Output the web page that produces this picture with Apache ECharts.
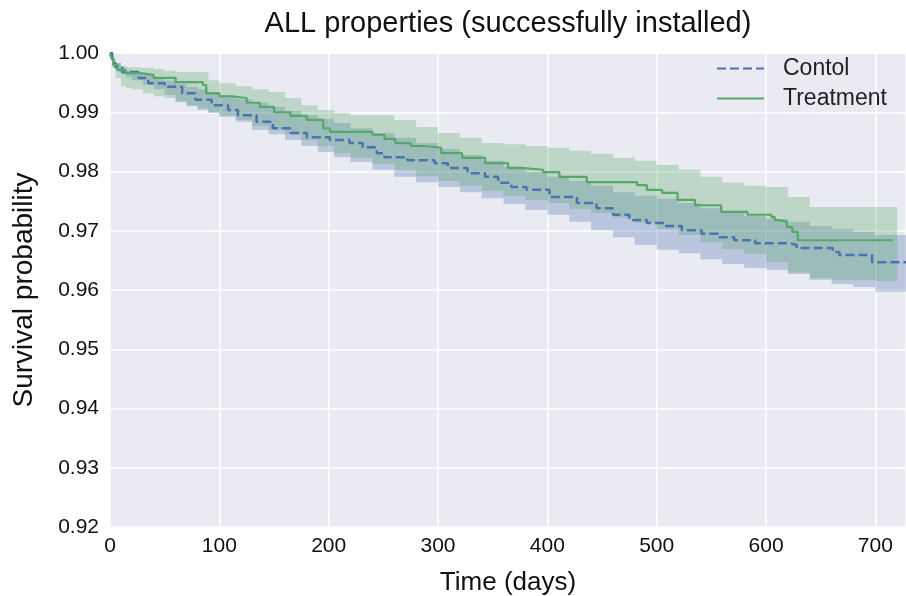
<!DOCTYPE html>
<html>
<head>
	<meta charset="utf-8">
	<title>ALL properties (successfully installed)</title>
	<script type="text/javascript" src="https://cdn.jsdelivr.net/npm/echarts@6/dist/echarts.min.js"></script>
	<style>
		html, body { margin: 0; padding: 0; background: #fff; }
	</style>
</head>
<body>
	<div id="main" style="width: 906px;height: 596px"></div>
	<script type="text/javascript">
	// Kaplan-Meier curves (days, survival probability)
	const ctrlDays = [0, 2, 5, 11, 26, 35, 50, 66, 78, 93, 108, 117, 134, 149, 165, 180, 201, 219, 231, 244,
		251, 272, 297, 309, 327, 343, 355, 367, 381, 402, 427, 445, 460, 475, 491, 507, 523, 541, 556, 571,
		590, 622, 628, 661, 667, 697, 728];
	const ctrlSurv = [1.0000, 0.9983, 0.9976, 0.9968, 0.9958, 0.9949, 0.9943, 0.9932, 0.9921, 0.9912, 0.9904, 0.9895, 0.9884, 0.9873, 0.9865, 0.9858, 0.9853, 0.9848, 0.9841, 0.9831,
		0.9824, 0.9819, 0.9814, 0.9806, 0.9797, 0.9791, 0.9781, 0.9774, 0.9769, 0.9757, 0.9747, 0.9738, 0.9727, 0.9718, 0.9713, 0.9708, 0.9701, 0.9695, 0.9689, 0.9684,
		0.9679, 0.9676, 0.9671, 0.9664, 0.9659, 0.9647, 0.9647];

	const treatDays = [0, 1, 3, 7, 14, 27, 40, 60, 85, 88, 100, 110, 125, 137, 150, 165, 180, 195, 201, 240,
		251, 261, 275, 288, 303, 322, 343, 364, 375, 396, 411, 436, 482, 491, 505, 519, 535, 559, 583, 605,
		608, 612, 619, 624, 629, 716];
	const treatSurv = [1.0000, 0.9992, 0.9980, 0.9971, 0.9966, 0.9963, 0.9958, 0.9951, 0.9946, 0.9932, 0.9927, 0.9924, 0.9916, 0.9909, 0.9900, 0.9894, 0.9887, 0.9873, 0.9867, 0.9862,
		0.9855, 0.9848, 0.9843, 0.9840, 0.9831, 0.9823, 0.9814, 0.9806, 0.9803, 0.9799, 0.9791, 0.9782, 0.9777, 0.9769, 0.9764, 0.9752, 0.9743, 0.9732, 0.9727, 0.9723,
		0.9718, 0.9715, 0.9706, 0.9698, 0.9684, 0.9684];

	// confidence bands
	const ctrlBandDays = [0, 2, 5, 10, 15, 20, 30, 40, 50, 60, 70, 80, 90, 100, 115, 130, 145, 160, 175, 190,
		205, 220, 240, 260, 280, 300, 320, 340, 360, 380, 400, 420, 440, 460, 480, 500, 520, 540, 560, 580,
		600, 620, 640, 660, 680, 700, 720, 728];
	const ctrlUpper = [1.0000, 0.9990, 0.9983, 0.9976, 0.9971, 0.9968, 0.9963, 0.9958, 0.9953, 0.9948, 0.9943, 0.9939, 0.9934, 0.9929, 0.9922, 0.9916, 0.9909, 0.9902, 0.9895, 0.9889,
		0.9882, 0.9873, 0.9865, 0.9857, 0.9848, 0.9838, 0.9828, 0.9818, 0.9808, 0.9799, 0.9791, 0.9784, 0.9776, 0.9765, 0.9759, 0.9754, 0.9747, 0.9738, 0.9730, 0.9725,
		0.9720, 0.9715, 0.9708, 0.9703, 0.9698, 0.9693, 0.9693, 0.9693];
	const ctrlLower = [1.0000, 0.9980, 0.9971, 0.9965, 0.9959, 0.9954, 0.9946, 0.9939, 0.9929, 0.9917, 0.9911, 0.9904, 0.9899, 0.9892, 0.9884, 0.9870, 0.9863, 0.9853, 0.9843, 0.9833,
		0.9824, 0.9816, 0.9803, 0.9791, 0.9782, 0.9774, 0.9765, 0.9755, 0.9745, 0.9735, 0.9727, 0.9715, 0.9701, 0.9689, 0.9676, 0.9668, 0.9662, 0.9652, 0.9644, 0.9637,
		0.9634, 0.9627, 0.9620, 0.9610, 0.9605, 0.9597, 0.9597, 0.9597];

	const treatBandDays = [0, 2, 5, 10, 15, 20, 30, 40, 50, 60, 70, 80, 90, 100, 115, 130, 145, 160, 175, 190,
		205, 220, 240, 260, 280, 300, 320, 340, 360, 380, 400, 420, 440, 460, 480, 500, 520, 540, 560, 580,
		600, 620, 640, 660, 680, 700, 720];
	const treatUpper = [1.0000, 0.9988, 0.9983, 0.9978, 0.9976, 0.9976, 0.9975, 0.9973, 0.9970, 0.9968, 0.9968, 0.9968, 0.9954, 0.9949, 0.9944, 0.9939, 0.9934, 0.9924, 0.9912, 0.9904,
		0.9899, 0.9895, 0.9895, 0.9887, 0.9875, 0.9865, 0.9857, 0.9848, 0.9846, 0.9843, 0.9840, 0.9835, 0.9830, 0.9823, 0.9818, 0.9811, 0.9803, 0.9791, 0.9781, 0.9776,
		0.9774, 0.9757, 0.9740, 0.9740, 0.9740, 0.9740, 0.9740];
	const treatLower = [1.0000, 0.9975, 0.9958, 0.9944, 0.9941, 0.9939, 0.9932, 0.9927, 0.9924, 0.9919, 0.9911, 0.9907, 0.9900, 0.9895, 0.9887, 0.9877, 0.9870, 0.9863, 0.9853, 0.9843,
		0.9831, 0.9823, 0.9813, 0.9803, 0.9792, 0.9784, 0.9776, 0.9767, 0.9759, 0.9752, 0.9747, 0.9737, 0.9730, 0.9722, 0.9713, 0.9703, 0.9693, 0.9681, 0.9669, 0.9661,
		0.9647, 0.9630, 0.9617, 0.9617, 0.9617, 0.9615, 0.9613];

	const xTicks = [0, 100, 200, 300, 400, 500, 600, 700];

	const FONT = 'Arial, "Liberation Sans", sans-serif';
	const BLUE = '#4C72B0';
	const GREEN = '#55A868';

	function zip(xs, ys) {
		return xs.map(function (x, i) { return [x, ys[i]]; });
	}

	// step-shaped polygon between lower and upper, drawn through the axis scales
	function band(name, days, lower, upper, color) {
		return {
			name: name,
			type: 'custom',
			silent: true,
			clip: true,
			z: 1,
			data: [[days[0], upper[0]]],
			renderItem: function (params, api) {
				const top = [], bot = [];
				for (let i = 0; i < days.length; i++) {
					top.push(api.coord([days[i], upper[i]]));
					bot.push(api.coord([days[i], lower[i]]));
					if (i < days.length - 1) {
						top.push(api.coord([days[i + 1], upper[i]]));
						bot.push(api.coord([days[i + 1], lower[i]]));
					}
				}
				return {
					type: 'polygon',
					shape: { points: top.concat(bot.reverse()) },
					style: { fill: color }
				};
			}
		};
	}

	const chart = echarts.init(document.getElementById('main'));

	const option = {
		animation: false,
		backgroundColor: '#ffffff',
		textStyle: { fontFamily: FONT },
		title: {
			text: 'ALL properties (successfully installed)',
			left: 503,
			top: 4,
			textAlign: 'center',
			textStyle: { fontFamily: FONT, fontSize: 29, fontWeight: 'normal', color: '#111' }
		},
		legend: {
			data: ['Contol', 'Treatment'],
			orient: 'vertical',
			left: 716,
			top: 57,
			padding: 0,
			itemGap: 7,
			itemWidth: 47,
			itemHeight: 20,
			itemStyle: { opacity: 0 },
			textStyle: { fontFamily: FONT, fontSize: 23, color: '#222', padding: [0, 0, 0, 14] }
		},
		grid: {
			left: 110,
			right: 0,
			top: 53,
			bottom: 69,
			outerBoundsMode: 'none',
			show: true,
			backgroundColor: '#EAEAF2',
			borderWidth: 0
		},
		xAxis: {
			type: 'value',
			min: 0,
			max: 728,
			interval: 100,
			name: 'Time (days)',
			nameLocation: 'middle',
			nameGap: 43,
			nameTextStyle: { fontFamily: FONT, fontSize: 26, color: '#111' },
			axisLine: { show: false },
			axisTick: { show: false },
			axisLabel: {
				fontFamily: FONT, fontSize: 21, color: '#111', margin: 9,
				showMaxLabel: false,
				formatter: function (v) { return xTicks.indexOf(v) >= 0 ? String(v) : ''; }
			},
			splitLine: { lineStyle: { color: '#ffffff', width: 1.5 } }
		},
		yAxis: {
			type: 'value',
			min: 0.92,
			max: 1.00,
			interval: 0.01,
			name: 'Survival probability',
			nameLocation: 'middle',
			nameGap: 72,
			nameTextStyle: { fontFamily: FONT, fontSize: 28, color: '#111' },
			axisLine: { show: false },
			axisTick: { show: false },
			axisLabel: {
				fontFamily: FONT, fontSize: 21, color: '#111', margin: 11,
				formatter: function (v) { return v.toFixed(2); }
			},
			splitLine: { lineStyle: { color: '#ffffff', width: 1.5 } }
		},
		series: [
			band('ctrlBand', ctrlBandDays, ctrlLower, ctrlUpper, 'rgba(76,114,176,0.30)'),
			band('treatBand', treatBandDays, treatLower, treatUpper, 'rgba(85,168,104,0.30)'),
			{
				name: 'Contol',
				type: 'line',
				step: 'end',
				data: zip(ctrlDays, ctrlSurv),
				symbol: 'none',
				color: BLUE,
				lineStyle: { color: BLUE, width: 2.5, type: [9, 4] },
				z: 3
			}, {
				name: 'Treatment',
				type: 'line',
				step: 'end',
				data: zip(treatDays, treatSurv),
				symbol: 'none',
				color: GREEN,
				lineStyle: { color: GREEN, width: 2.2 },
				z: 4
			}
		]
	};

	chart.setOption(option);
	</script>
</body>
</html>
